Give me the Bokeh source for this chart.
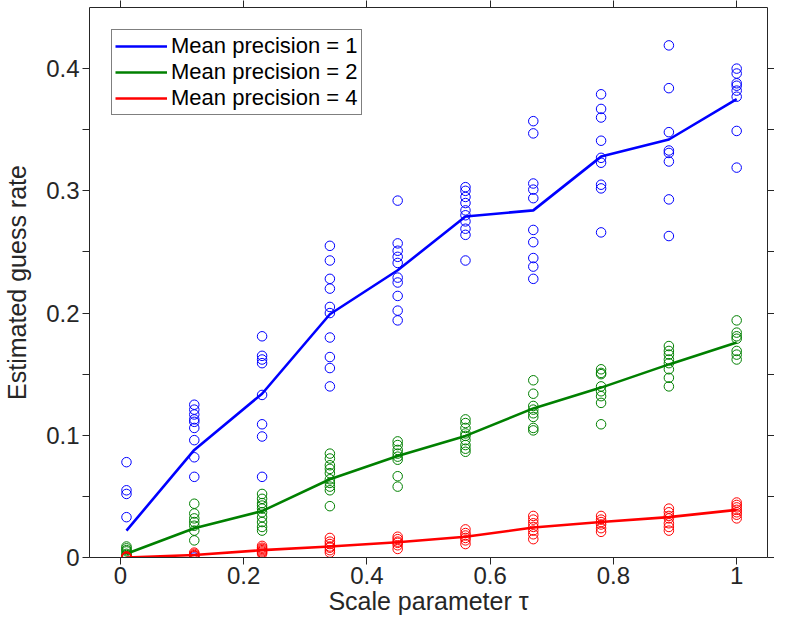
from bokeh.plotting import figure
from bokeh.models import LinearAxis, FixedTicker, Legend, LegendItem, Range1d
from bokeh.embed import file_html
from bokeh.resources import INLINE

# ---------------- data ----------------
TAU = [0.01, 0.12, 0.23, 0.34, 0.45, 0.56, 0.67, 0.78, 0.89, 1.0]

BLUE_PTS = [
    [0.078, 0.055, 0.052, 0.033, 0.0, 0.0, 0.0, 0.0, 0.0, 0.0],
    [0.125, 0.121, 0.117, 0.113, 0.111, 0.106, 0.096, 0.082, 0.066, 0.0],
    [0.181, 0.165, 0.162, 0.159, 0.133, 0.109, 0.099, 0.066],
    [0.255, 0.243, 0.228, 0.220, 0.205, 0.200, 0.180, 0.164, 0.155, 0.140],
    [0.292, 0.257, 0.251, 0.246, 0.241, 0.229, 0.225, 0.214, 0.202, 0.194],
    [0.303, 0.300, 0.295, 0.290, 0.284, 0.280, 0.275, 0.269, 0.264, 0.243],
    [0.357, 0.347, 0.306, 0.301, 0.294, 0.268, 0.258, 0.245, 0.238, 0.228],
    [0.379, 0.367, 0.360, 0.341, 0.327, 0.323, 0.305, 0.302, 0.266],
    [0.419, 0.384, 0.348, 0.333, 0.331, 0.324, 0.293, 0.263],
    [0.400, 0.396, 0.388, 0.386, 0.382, 0.377, 0.349, 0.319],
]
BLUE_MEAN = [0.022, 0.088, 0.134, 0.199, 0.235, 0.279, 0.284, 0.328, 0.342, 0.375]

GREEN_PTS = [
    [0.009, 0.0075, 0.006, 0.005, 0.003, 0.002, 0.001, 0.0, 0.0, 0.0],
    [0.044, 0.036, 0.032, 0.029, 0.026, 0.022, 0.014],
    [0.052, 0.048, 0.0445, 0.0425, 0.040, 0.037, 0.033, 0.029, 0.025, 0.022],
    [0.085, 0.081, 0.0755, 0.0725, 0.069, 0.064, 0.061, 0.058, 0.055, 0.042],
    [0.095, 0.092, 0.088, 0.085, 0.0825, 0.080, 0.0665, 0.058],
    [0.113, 0.110, 0.106, 0.1015, 0.0995, 0.096, 0.092, 0.089, 0.0865],
    [0.145, 0.134, 0.124, 0.121, 0.118, 0.115, 0.106, 0.104],
    [0.154, 0.151, 0.150, 0.140, 0.136, 0.132, 0.1265, 0.109],
    [0.173, 0.169, 0.166, 0.162, 0.159, 0.154, 0.147, 0.140],
    [0.194, 0.184, 0.181, 0.179, 0.169, 0.166, 0.162],
]
GREEN_MEAN = [0.003, 0.024, 0.038, 0.064, 0.083, 0.0995, 0.122, 0.139, 0.158, 0.176]

RED_PTS = [
    [0.0, 0.0, 0.0005, 0.001, 0.0],
    [0.004, 0.003, 0.002, 0.0015, 0.001],
    [0.0095, 0.008, 0.007, 0.006, 0.005, 0.004, 0.003],
    [0.016, 0.013, 0.011, 0.009, 0.008, 0.006, 0.004],
    [0.017, 0.015, 0.013, 0.012, 0.010, 0.007],
    [0.023, 0.020, 0.018, 0.016, 0.014, 0.011],
    [0.034, 0.031, 0.028, 0.025, 0.022, 0.019, 0.015],
    [0.034, 0.031, 0.029, 0.027, 0.024, 0.021],
    [0.040, 0.037, 0.034, 0.032, 0.028, 0.025, 0.022],
    [0.045, 0.043, 0.041, 0.039, 0.037, 0.035, 0.032],
]
RED_MEAN = [0.0, 0.002, 0.006, 0.009, 0.0125, 0.017, 0.0245, 0.029, 0.033, 0.039]

SERIES_LABELS = ["Mean precision = 1", "Mean precision = 2", "Mean precision = 4"]
SERIES_COLORS = ["#0000ff", "#008000", "#ff0000"]

X_TICKS = [0, 0.2, 0.4, 0.6, 0.8, 1]
X_TICK_LABELS = ["0", "0.2", "0.4", "0.6", "0.8", "1"]
Y_TICKS = [0, 0.1, 0.2, 0.3, 0.4]
Y_TICK_LABELS = ["0", "0.1", "0.2", "0.3", "0.4"]
Y_MINOR_TICKS = [0.05, 0.15, 0.25, 0.35]

X_LABEL = "Scale parameter τ"
Y_LABEL = "Estimated guess rate"

# ---------------- figure ----------------
FONT = "Liberation Sans"
AXC = "#262626"

p = figure(width=774, height=617, output_backend="svg", toolbar_location=None,
           x_range=Range1d(-0.05, 1.05), y_range=Range1d(0, 0.45),
           x_axis_location=None, y_axis_location=None,
           min_border_left=89, min_border_top=7, min_border_right=4, min_border_bottom=10)
p.grid.visible = False
p.outline_line_color = None
p.background_fill_color = "white"
p.border_fill_color = "white"


def style(ax, show_labels=True):
    ax.axis_line_color = AXC
    ax.axis_line_width = 1
    ax.major_tick_line_color = AXC
    ax.minor_tick_line_color = AXC
    ax.major_tick_in = 0
    ax.major_tick_out = 7
    ax.minor_tick_in = 0
    ax.minor_tick_out = 7
    ax.major_label_text_font = FONT
    ax.axis_label_text_font = FONT
    ax.axis_label_text_font_style = "normal"
    ax.axis_label_text_color = AXC
    ax.axis_label_text_font_size = "25px"
    if show_labels:
        ax.major_label_text_color = AXC
        ax.major_label_text_font_size = "24px"
        ax.major_label_standoff = 2
    else:
        ax.major_label_text_color = None
        ax.major_label_text_font_size = "1px"
        ax.major_label_standoff = 0


xb = LinearAxis(ticker=FixedTicker(ticks=X_TICKS, minor_ticks=[]),
                major_label_overrides=dict(zip(X_TICKS, X_TICK_LABELS)),
                axis_label=X_LABEL)
style(xb)
xb.axis_label_standoff = 0
p.add_layout(xb, "below")

xt = LinearAxis(ticker=FixedTicker(ticks=X_TICKS, minor_ticks=[]))
style(xt, False)
p.add_layout(xt, "above")

yl = LinearAxis(ticker=FixedTicker(ticks=Y_TICKS, minor_ticks=Y_MINOR_TICKS),
                major_label_overrides=dict(zip(Y_TICKS, Y_TICK_LABELS)),
                axis_label=Y_LABEL)
style(yl)
yl.major_label_standoff = 3
yl.axis_label_standoff = 12
p.add_layout(yl, "left")

yr = LinearAxis(ticker=FixedTicker(ticks=Y_TICKS, minor_ticks=Y_MINOR_TICKS))
style(yr, False)
p.add_layout(yr, "right")


def flatten(pts):
    xs, ys = [], []
    for t, col in zip(TAU, pts):
        xs += [t] * len(col)
        ys += list(col)
    return xs, ys


line_renderers = []
for pts, mean, color in zip([BLUE_PTS, GREEN_PTS, RED_PTS],
                            [BLUE_MEAN, GREEN_MEAN, RED_MEAN], SERIES_COLORS):
    xs, ys = flatten(pts)
    p.scatter(xs, ys, marker="circle", size=9.5, fill_color=None,
              line_color=color, line_width=1)
    r = p.line(TAU, mean, line_color=color, line_width=2.6)
    line_renderers.append(r)

legend = Legend(
    items=[LegendItem(label=lab, renderers=[r]) for lab, r in zip(SERIES_LABELS, line_renderers)],
    location="top_left", margin=22, padding=3, spacing=0,
    label_height=22, glyph_height=22, glyph_width=52, label_standoff=4,
    label_text_font=FONT, label_text_font_size="22px", label_text_color="black",
    border_line_color="black", border_line_width=1, background_fill_color="white",
    background_fill_alpha=1.0,
)
p.add_layout(legend)

open("out.html", "w").write(file_html(p, INLINE))
